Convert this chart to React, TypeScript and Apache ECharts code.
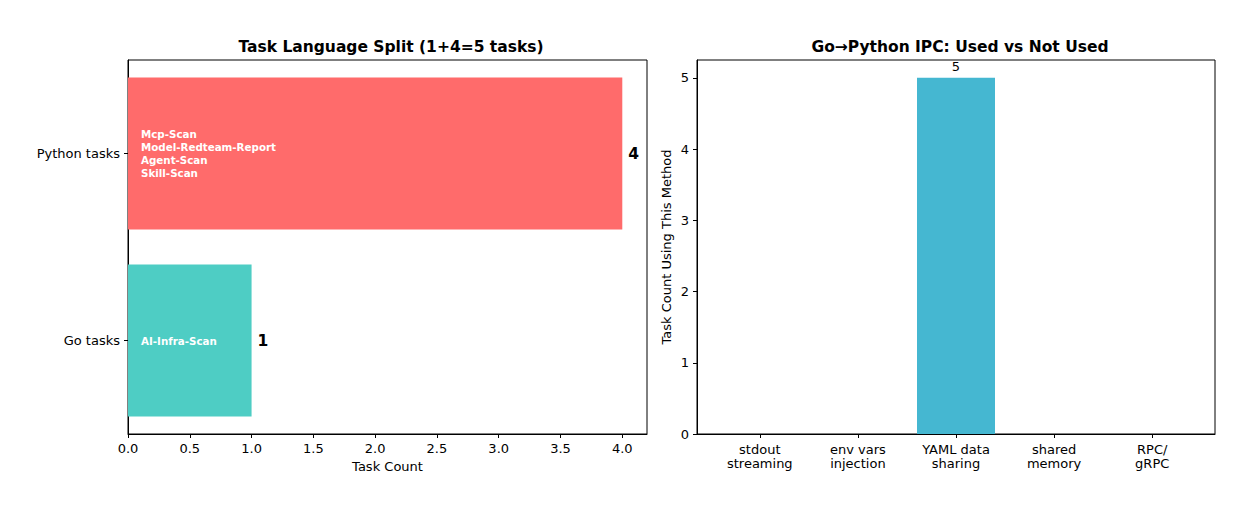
import React, { useEffect, useRef } from "react";
import * as echarts from "echarts";

const langCategories = ["Go tasks", "Python tasks"];
const langCounts = [1, 4];
const goTaskNames = ["AI-Infra-Scan"];
const pythonTaskNames = ["Mcp-Scan", "Model-Redteam-Report", "Agent-Scan", "Skill-Scan"];
const langColors = ["#4ECDC4", "#FF6B6B"];
const xTicksLeft = [0, 0.5, 1, 1.5, 2, 2.5, 3, 3.5, 4];

const ipcMethods = ["stdout\nstreaming", "env vars\ninjection", "YAML data\nsharing", "shared\nmemory", "RPC/\ngRPC"];
const ipcCounts = [0, 0, 5, 0, 0];
const yTicksRight = [0, 1, 2, 3, 4, 5];

const FONT = "DejaVu Sans";
const FS = 13;

export default function App() {
  const ref = useRef<HTMLDivElement>(null);
  useEffect(() => {
    const chart = echarts.init(ref.current!, null, { renderer: "svg" });
    const innerNames = [goTaskNames, pythonTaskNames];
    const option: any = {
      animation: false,
      textStyle: { fontFamily: FONT },
      title: [
        {
          text: "Task Language Split (1+4=5 tasks)",
          left: 386,
          top: 34,
          textAlign: "center",
          textStyle: { fontFamily: FONT, fontSize: 15.5, fontWeight: "bold", color: "#000" },
        },
        {
          text: "Go\u2192Python IPC: Used vs Not Used",
          left: 955,
          top: 34,
          textAlign: "center",
          textStyle: { fontFamily: FONT, fontSize: 15.5, fontWeight: "bold", color: "#000" },
        },
      ],
      grid: [
        { left: 128, right: 587, top: 60, bottom: 72, show: true, borderColor: "#000", borderWidth: 1, backgroundColor: "#fff" },
        { left: 697, right: 19, top: 60, bottom: 72, show: true, borderColor: "#000", borderWidth: 1, backgroundColor: "#fff" },
      ],
      xAxis: [
        {
          type: "value",
          gridIndex: 0,
          min: 0,
          max: 4.2,
          name: "Task Count",
          nameLocation: "middle",
          nameGap: 25,
          nameTextStyle: { fontFamily: FONT, fontSize: FS, color: "#000" },
          splitLine: { show: false },
          axisLine: { show: true, onZero: false, lineStyle: { color: "#000", width: 1 } },
          axisTick: { show: true, length: 4, lineStyle: { color: "#000" }, customValues: xTicksLeft },
          axisLabel: {
            customValues: xTicksLeft,
            formatter: (v: number) => v.toFixed(1),
            fontFamily: FONT,
            fontSize: FS,
            color: "#000",
            margin: 8,
          },
        },
        {
          type: "value",
          gridIndex: 1,
          min: -0.64,
          max: 4.64,
          splitLine: { show: false },
          axisLine: { show: true, onZero: false, lineStyle: { color: "#000", width: 1 } },
          axisTick: { show: true, length: 4, lineStyle: { color: "#000" }, customValues: [0, 1, 2, 3, 4] },
          axisLabel: {
            customValues: [0, 1, 2, 3, 4],
            formatter: (v: number) => ipcMethods[Math.round(v)] ?? "",
            fontFamily: FONT,
            fontSize: FS,
            lineHeight: 14,
            color: "#000",
            margin: 8,
          },
        },
      ],
      yAxis: [
        {
          type: "category",
          gridIndex: 0,
          data: langCategories,
          axisLine: { show: true, onZero: false, lineStyle: { color: "#000", width: 1 } },
          axisTick: { show: true, length: 4, alignWithLabel: true, lineStyle: { color: "#000" } },
          axisLabel: { fontFamily: FONT, fontSize: FS, color: "#000", margin: 8 },
        },
        {
          type: "value",
          gridIndex: 1,
          min: 0,
          max: 5.25,
          name: "Task Count Using This Method",
          nameLocation: "middle",
          nameGap: 24,
          nameTextStyle: { fontFamily: FONT, fontSize: FS, color: "#000" },
          splitLine: { show: false },
          axisLine: { show: true, onZero: false, lineStyle: { color: "#000", width: 1 } },
          axisTick: { show: true, length: 4, lineStyle: { color: "#000" }, customValues: yTicksRight },
          axisLabel: {
            customValues: yTicksRight,
            fontFamily: FONT,
            fontSize: FS,
            color: "#000",
            margin: 8,
          },
        },
      ],
      series: [
        {
          type: "bar",
          xAxisIndex: 0,
          yAxisIndex: 0,
          barWidth: 152,
          data: langCounts.map((v, i) => ({ value: v, itemStyle: { color: langColors[i] } })),
          label: {
            show: true,
            position: "insideLeft",
            distance: 13,
            formatter: (p: any) => innerNames[p.dataIndex].join("\n"),
            fontFamily: FONT,
            fontSize: 10.3,
            fontWeight: "bold",
            lineHeight: 13,
            color: "#fff",
          },
        },
        {
          type: "bar",
          xAxisIndex: 0,
          yAxisIndex: 0,
          barWidth: 152,
          barGap: "-100%",
          data: langCounts,
          itemStyle: { color: "rgba(0,0,0,0)" },
          label: {
            show: true,
            position: "right",
            distance: 6,
            fontFamily: FONT,
            fontSize: 15.5,
            fontWeight: "bold",
            color: "#000",
          },
          silent: true,
        },
        {
          type: "bar",
          xAxisIndex: 1,
          yAxisIndex: 1,
          barWidth: 78,
          data: ipcCounts.map((v, i) => [i, v]),
          itemStyle: { color: "#45B7D1" },
          label: {
            show: true,
            position: "top",
            distance: 5,
            formatter: (p: any) => (p.value[1] > 0 ? String(p.value[1]) : ""),
            fontFamily: FONT,
            fontSize: FS,
            color: "#000",
          },
        },
      ],
    };
    chart.setOption(option);
    return () => chart.dispose();
  }, []);
  return (
    <div
      ref={ref}
      style={{ position: "absolute", left: 0, top: 0, width: 1234, height: 506, background: "#fff" }}
    />
  );
}
